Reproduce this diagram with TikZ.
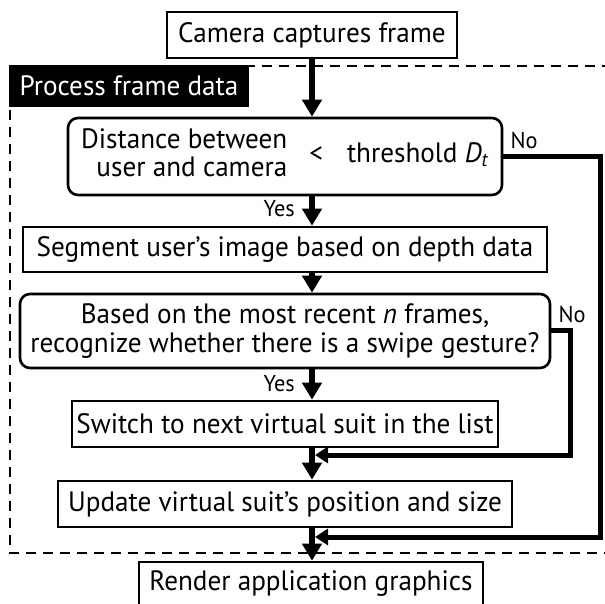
\documentclass[tikz,border=0pt]{standalone}
\usepackage{fontspec}
\setmainfont{PT Sans}[FakeStretch=0.97]
\usetikzlibrary{arrows.meta,calc}
\newcommand\mainsz{\fontsize{28}{30}\selectfont}
\newcommand\smallsz{\fontsize{23}{26}\selectfont}
\begin{document}
\begin{tikzpicture}[x=1pt,y=1pt,
  box/.style={draw=black, line width=2.6pt, inner sep=0pt, font=\mainsz, align=center},
  roundbox/.style={box, rounded corners=10pt},
  tag/.style={fill=black, text=white, inner sep=0pt, font=\mainsz},
  lab/.style={inner sep=0pt, font=\smallsz},
  flow/.style={line width=5.5pt, -{Triangle[width=19pt,length=17pt]}},
  back/.style={line width=5pt, -{Triangle[width=16pt,length=13pt]}},
  frame/.style={line width=2.6pt, dash pattern=on 10pt off 7pt}
]
\useasboundingbox (0,0) rectangle (605,603);

% dashed frame of the processing stage
\draw[frame] (612,537) -- (10,537) -- (10,50) -- (612,50);

% nodes
\node[box, minimum width=290pt, minimum height=46pt] (cam) at (312,568) {Camera captures frame};
\node[tag, minimum width=240pt, minimum height=42pt] (stage) at (129,517) {Process frame data};
\node[roundbox, minimum width=434pt, minimum height=77pt] (dist) at (285,446.5)
  {\begin{tabular}[c]{@{}r@{}}Distance between\\[-2pt]user and camera\end{tabular}\hspace{22pt}<\hspace{24pt}threshold \textit{D}\textsubscript{\textit{t}}};
\node[box, minimum width=524pt, minimum height=45pt] (seg) at (285,353.5) {Segment user’s image based on depth data};
\node[roundbox, minimum width=530pt, minimum height=74pt] (swipe) at (285,272)
  {Based on the most recent \textit{n} frames,\\[-1pt]recognize whether there is a swipe gesture?};
\node[box, minimum width=426pt, minimum height=46pt] (switch) at (285,179) {Switch to next virtual suit in the list};
\node[box, minimum width=454pt, minimum height=46pt] (update) at (285,99) {Update virtual suit’s position and size};
\node[box, minimum width=344pt, minimum height=44pt] (render) at (311,19) {Render application graphics};

% join points on the main line and corners of the return paths
\coordinate (join1) at (315,66);
\coordinate (join2) at (315,148);
\coordinate (corner1) at (600,66);
\coordinate (corner2) at (570,148);

% main flow
\draw[flow] (cam.south) -- (cam.south |- dist.north);
\draw[flow] (dist.south -| cam.south) -- (seg.north -| cam.south);
\draw[flow] (seg.south -| cam.south) -- (swipe.north -| cam.south);
\draw[flow] (swipe.south -| cam.south) -- (switch.north -| cam.south);
\draw[flow] (switch.south -| cam.south) -- (update.north -| cam.south);
\draw[flow] (update.south -| cam.south) -- (render.north -| cam.south);

% "No" branches
\draw[back] (dist.east) -| (corner1) -- (join1);
\draw[back] (swipe.east) -| (corner2) -- (join2);

% branch labels
\node[lab, anchor=base west] (no1) at ([xshift=7pt,yshift=8pt]dist.east) {No};
\node[lab, anchor=base west] (no2) at ([xshift=7pt,yshift=8pt]swipe.east) {No};
\node[lab, anchor=base east] (yes1) at ([xshift=-17pt,yshift=9pt]seg.north -| cam.south) {Yes};
\node[lab, anchor=base east] (yes2) at ([xshift=-17pt,yshift=8pt]switch.north -| cam.south) {Yes};
\end{tikzpicture}
\end{document}
